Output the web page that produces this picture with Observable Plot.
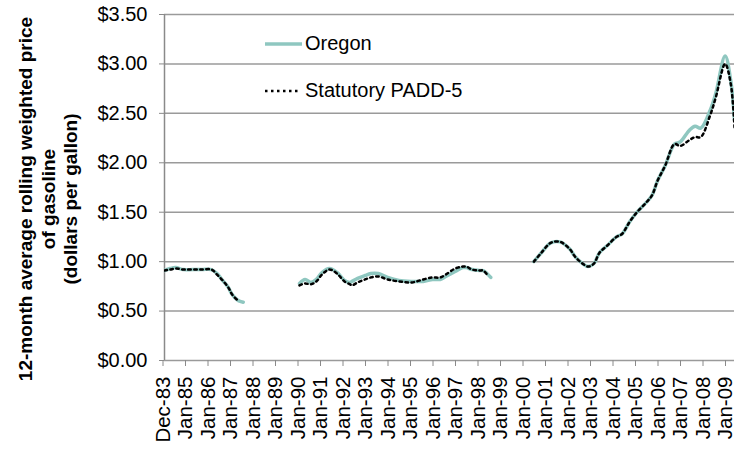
<!DOCTYPE html>
<html>
<head>
<meta charset="utf-8">
<script src="https://cdn.jsdelivr.net/npm/d3@7"></script>
<script src="https://cdn.jsdelivr.net/npm/@observablehq/plot@0.6"></script>
<style>
  html, body { margin: 0; padding: 0; background: #fff; }
  #wrap { position: relative; width: 734px; height: 452px; overflow: hidden; font-family: "Liberation Sans", Arial, sans-serif; }
  #chart { position: absolute; left: 0; top: 0; }
  #ytitle { position: absolute; width: 420px; height: 68px; left: -161px; top: 165px; transform: rotate(-90deg); transform-origin: 50% 50%;
            text-align: center; font-weight: bold; font-size: 19px; line-height: 22.5px; color: #000; white-space: nowrap; }
  .leg { position: absolute; left: 264px; display: flex; align-items: center; font-size: 20px; color: #000; white-space: nowrap; }
  .leg svg { margin-right: 3px; }
</style>
</head>
<body>
<div id="wrap">
  <div id="chart"></div>
  <div id="ytitle">12-month average rolling weighted price<br>of gasoline<br>(dollars per gallon)</div>
  <div class="leg" style="top:32px;"><svg width="38" height="8"><line x1="1" x2="38" y1="4" y2="4" stroke="#8fc7c0" stroke-width="3.5"/></svg>Oregon</div>
  <div class="leg" style="top:79px;"><svg width="38" height="8"><line x1="1" x2="36" y1="4" y2="4" stroke="#000" stroke-width="2.5" stroke-dasharray="2.5,3.5"/></svg>Statutory PADD-5</div>
</div>
<script>
// month index (0 = first category, labelled Dec-83; 12 per year)
const months = [0, 3, 6, 10, 15, 20, 25, 28, 31, 34, 36, 39, 40, 42, 57,
  72, 75, 78, 81, 84, 88, 92, 96, 99, 100, 103, 107, 110, 114, 119, 125, 132, 138, 143, 147, 150, 155, 159, 161, 164, 168, 170, 172, 174, 185,
  197, 201, 206, 211, 216, 219, 223, 226, 229, 232, 236, 241, 244, 248, 252, 257, 260, 263, 267, 272, 275, 280, 283, 286, 291, 294, 299, 302, 304];
const oregon = [0.91, 0.93, 0.94, 0.92, 0.92, 0.92, 0.92, 0.88, 0.81, 0.74, 0.67, 0.61, 0.60, 0.59, null,
  0.78, 0.82, 0.79, 0.82, 0.89, 0.93, 0.89, 0.81, 0.79, 0.80, 0.83, 0.86, 0.88, 0.88, 0.84, 0.81, 0.80, 0.80, 0.82, 0.82, 0.85, 0.90, 0.94, 0.94, 0.92, 0.91, 0.91, 0.88, 0.84, null,
  1.00, 1.09, 1.19, 1.20, 1.13, 1.05, 0.98, 0.95, 0.98, 1.09, 1.16, 1.25, 1.28, 1.40, 1.50, 1.60, 1.67, 1.82, 1.97, 2.19, 2.21, 2.33, 2.37, 2.35, 2.53, 2.70, 3.08, 2.83, 2.43];
const padd5 = [0.91, 0.92, 0.93, 0.92, 0.92, 0.92, 0.92, 0.87, 0.81, 0.74, 0.67, 0.61, 0.60, null, null,
  0.76, 0.78, 0.77, 0.80, 0.87, 0.92, 0.88, 0.80, 0.77, 0.76, 0.79, 0.82, 0.84, 0.85, 0.82, 0.80, 0.79, 0.82, 0.84, 0.84, 0.87, 0.93, 0.95, 0.95, 0.92, 0.91, 0.91, 0.87, null, null,
  1.00, 1.09, 1.19, 1.20, 1.13, 1.05, 0.98, 0.95, 0.98, 1.09, 1.16, 1.25, 1.28, 1.40, 1.50, 1.60, 1.67, 1.82, 1.97, 2.19, 2.17, 2.23, 2.26, 2.26, 2.48, 2.66, 3.00, 2.80, 2.36];
const xTickLabels = ["Dec-83", "Jan-85", "Jan-86", "Jan-87", "Jan-88", "Jan-89", "Jan-90", "Jan-91", "Jan-92", "Jan-93", "Jan-94", "Jan-95", "Jan-96",
  "Jan-97", "Jan-98", "Jan-99", "Jan-00", "Jan-01", "Jan-02", "Jan-03", "Jan-04", "Jan-05", "Jan-06", "Jan-07", "Jan-08", "Jan-09"];
const yTicks = [0, 0.5, 1, 1.5, 2, 2.5, 3, 3.5];

const rows = months.map((m, i) => ({m, oregon: oregon[i], padd5: padd5[i]}));
const xTicks = xTickLabels.map((_, i) => i * 12);

const chart = Plot.plot({
  width: 734,
  height: 452,
  marginLeft: 164,
  marginRight: 0,
  marginTop: 14,
  marginBottom: 92,
  style: {fontFamily: "'Liberation Sans', Arial, sans-serif", fontSize: "20px", color: "#000", background: "transparent"},
  x: {type: "linear", domain: [0, 304]},
  y: {domain: [0, 3.5]},
  marks: [
    Plot.gridY(yTicks, {stroke: "#9a9a9a", strokeOpacity: 1, strokeWidth: 1.5}),
    Plot.ruleX([0], {stroke: "#8a8a8a", strokeWidth: 1.5}),
    Plot.axisY({ticks: yTicks, tickFormat: d => "$" + d.toFixed(2), tickSize: 5, tickPadding: 12, stroke: "#8a8a8a", fill: "#000", fontSize: 20, label: null}),
    Plot.axisX({ticks: xTicks, tickFormat: (d, i) => xTickLabels[i], tickRotate: -90, tickSize: 6, tickPadding: 10, stroke: "#8a8a8a", fill: "#000", fontSize: 20.5, dx: -1.5, label: null}),
    Plot.line(rows, {x: "m", y: "oregon", stroke: "#8fc7c0", strokeWidth: 3.5, curve: "catmull-rom", clip: true}),
    Plot.line(rows, {x: "m", y: "padd5", stroke: "#000", strokeWidth: 2.5, strokeDasharray: "2.5,3.5", curve: "catmull-rom", clip: true})
  ]
});
document.getElementById("chart").appendChild(chart);
</script>
</body>
</html>
